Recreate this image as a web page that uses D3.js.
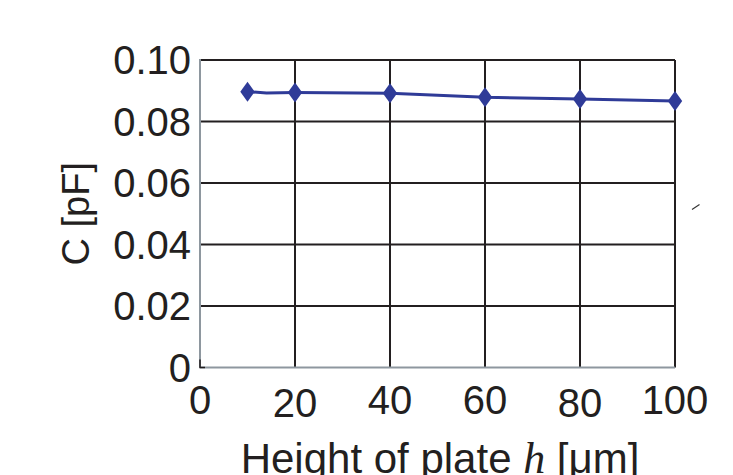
<!DOCTYPE html>
<html>
<head>
<meta charset="utf-8">
<script src="https://cdn.jsdelivr.net/npm/d3@7"></script>
<style>
  body { margin: 0; background: #fff; }
  svg { display: block; }
</style>
</head>
<body>
<svg id="chart" width="733" height="475"></svg>
<script>
// data
const lineH = [10, 14, 20, 40, 60, 80, 100];          // line vertices (um)
const lineC = [0.0897, 0.0893, 0.0894, 0.0892, 0.0879, 0.0873, 0.0867];
const markH = [10, 20, 40, 60, 80, 100];              // diamond markers
const markC = [0.0897, 0.0894, 0.0892, 0.0879, 0.0873, 0.0867];
const xTicks = [0, 20, 40, 60, 80, 100];
const yTicks = [0, 0.02, 0.04, 0.06, 0.08, 0.10];
const yTickLabels = ["0", "0.02", "0.04", "0.06", "0.08", "0.10"];

const svg = d3.select("#chart");
const width = 733, height = 475;
const margin = { left: 200, right: 58, top: 60, bottom: 107.5 };

const x = d3.scaleLinear().domain([0, 100]).range([margin.left, width - margin.right]);
const y = d3.scaleLinear().domain([0, 0.1]).range([height - margin.bottom, margin.top]);

const gridColor = "#231f20";
const axisGray = "#8e979f";
const blue = "#2f3b98";

// grid lines
svg.append("g")
  .selectAll("line.h")
  .data(yTicks.slice(1))
  .join("line")
  .attr("x1", x(0)).attr("x2", x(100))
  .attr("y1", d => y(d)).attr("y2", d => y(d))
  .attr("stroke", gridColor).attr("stroke-width", 2);

svg.append("g")
  .selectAll("line.v")
  .data(xTicks.slice(1))
  .join("line")
  .attr("x1", d => x(d)).attr("x2", d => x(d))
  .attr("y1", y(0)).attr("y2", y(0.1))
  .attr("stroke", gridColor).attr("stroke-width", 2);

// left and bottom frame lines in grey
svg.append("line")
  .attr("x1", x(0)).attr("x2", x(0)).attr("y1", y(0)).attr("y2", y(0.1) - 1)
  .attr("stroke", axisGray).attr("stroke-width", 2);
svg.append("line")
  .attr("x1", x(0)).attr("x2", x(100)).attr("y1", y(0)).attr("y2", y(0))
  .attr("stroke", axisGray).attr("stroke-width", 2);
// small dark corner tick
svg.append("path")
  .attr("d", `M${x(0)},${y(0) - 8}V${y(0)}H${x(0) + 5}`)
  .attr("fill", "none").attr("stroke", gridColor).attr("stroke-width", 1.5);

// y tick labels
svg.append("g")
  .selectAll("text")
  .data(yTicks)
  .join("text")
  .attr("x", 191)
  .attr("y", d => y(d))
  .attr("dy", "0.36em")
  .attr("text-anchor", "end")
  .attr("font-family", "Liberation Sans, Arial, sans-serif")
  .attr("font-size", 40)
  .attr("fill", "#231f20")
  .text((d, i) => yTickLabels[i]);

// x tick labels (slightly staggered in the original)
const xLabelDy = [0, 3, 0, 0, 3, 0];
svg.append("g")
  .selectAll("text")
  .data(xTicks)
  .join("text")
  .attr("x", d => x(d))
  .attr("y", (d, i) => 414 + xLabelDy[i])
  .attr("text-anchor", "middle")
  .attr("font-family", "Liberation Sans, Arial, sans-serif")
  .attr("font-size", 40)
  .attr("fill", "#231f20")
  .text(d => d);

// axis titles (the original is cut at the bottom edge too)
const xt = svg.append("text")
  .attr("x", 440).attr("y", 472.5)
  .attr("text-anchor", "middle")
  .attr("font-family", "Liberation Sans, Arial, sans-serif")
  .attr("font-size", 42)
  .attr("fill", "#231f20");
xt.append("tspan").text("Height of plate ");
xt.append("tspan").attr("font-family", "Liberation Serif, Times New Roman, serif")
  .attr("font-style", "italic").attr("font-size", 44).text("h");
xt.append("tspan").text(" [μm]");

svg.append("text")
  .attr("transform", `translate(89,${(y(0) + y(0.1)) / 2}) rotate(-90)`)
  .attr("text-anchor", "middle")
  .attr("font-family", "Liberation Sans, Arial, sans-serif")
  .attr("font-size", 38)
  .attr("fill", "#231f20")
  .text("C [pF]");

// series line
const line = d3.line().x(d => x(d[0])).y(d => y(d[1]));
svg.append("path")
  .datum(lineH.map((h, i) => [h, lineC[i]]))
  .attr("d", line)
  .attr("fill", "none")
  .attr("stroke", blue)
  .attr("stroke-width", 3);

// diamond markers
svg.append("g")
  .selectAll("path")
  .data(markH.map((h, i) => [h, markC[i]]))
  .join("path")
  .attr("transform", d => `translate(${x(d[0])},${y(d[1])})`)
  .attr("d", "M0,-10L7.2,0L0,10L-7.2,0Z")
  .attr("fill", blue);

// stray mark on the right edge of the original figure
svg.append("line")
  .attr("x1", 692).attr("y1", 209.5).attr("x2", 699.5).attr("y2", 204.5)
  .attr("stroke", "#333").attr("stroke-width", 1.2);
</script>
</body>
</html>
